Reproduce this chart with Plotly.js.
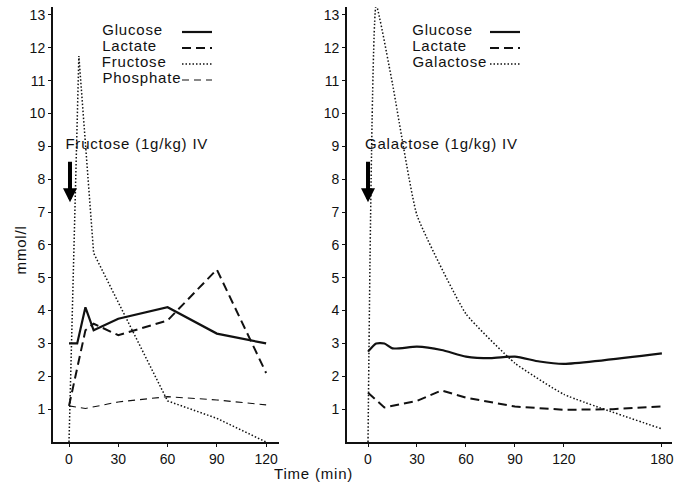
<!DOCTYPE html>
<html>
<head>
<meta charset="utf-8">
<script src="https://cdn.plot.ly/plotly-3.0.1.min.js"></script>
<style>
html,body{margin:0;padding:0;background:#fff;}
#chart{width:689px;height:483px;}
#chart .annotation-text{letter-spacing:0.8px;}
</style>
</head>
<body>
<div id="chart"></div>
<script>
// ---- Data ----
// Left panel: Fructose (1g/kg) IV
var gluLTime = [0, 5, 10, 15, 30, 60, 90, 120];
var gluLVal  = [3.0, 3.0, 4.1, 3.4, 3.75, 4.1, 3.3, 3.0];
var lacLTime = [0, 10, 15, 30, 60, 90, 120];
var lacLVal  = [1.1, 3.4, 3.6, 3.25, 3.7, 5.25, 2.1];
var fruLTime = [0, 6, 15, 60, 90, 120];
var fruLVal  = [0, 11.75, 5.75, 1.25, 0.72, 0.0];
var phoLTime = [0, 10, 30, 60, 90, 120];
var phoLVal  = [1.1, 1.02, 1.22, 1.38, 1.28, 1.13];
// Right panel: Galactose (1g/kg) IV
var gluRTime = [0, 5, 10, 15, 30, 45, 60, 75, 90, 105, 120, 180];
var gluRVal  = [2.75, 3.0, 3.0, 2.85, 2.9, 2.8, 2.6, 2.55, 2.6, 2.45, 2.38, 2.7];
var lacRTime = [0, 10, 30, 45, 60, 90, 120, 150, 180];
var lacRVal  = [1.5, 1.05, 1.25, 1.57, 1.35, 1.08, 0.98, 1.0, 1.08];
var galRTime = [0, 5, 15, 30, 60, 90, 120, 180];
var galRVal  = [0, 13.3, 10.9, 6.9, 3.9, 2.4, 1.45, 0.4];

var leftTicks  = [0, 30, 60, 90, 120];
var rightTicks = [0, 30, 60, 90, 120, 180];
var yTicks = [1, 2, 3, 4, 5, 6, 7, 8, 9, 10, 11, 12, 13];
var yTickText = ['1', '2', '3', '4', '5', '6', '7', '8', '9', '10', '11', '12', '13'];

var leftNames  = ['Glucose', 'Lactate', 'Fructose', 'Phosphate'];
var rightNames = ['Glucose', 'Lactate', 'Galactose'];
var leftNote  = 'Fructose (1g/kg) IV';
var rightNote = 'Galactose (1g/kg) IV';
var xTitle = 'Time (min)';
var yTitle = 'mmol/l';

// ---- Styles ----
var FONT = 'Liberation Sans, Arial, sans-serif';
var TXT = {family: FONT, size: 15, color: '#111'};
var LS = 0.8; // letter spacing set in CSS
var stGlu = {color: '#111', width: 2.2, dash: 'solid'};
var stLac = {color: '#111', width: 2.0, dash: '9px,5px'};
var stDot = {color: '#111', width: 1.5, dash: '1.5px,2px'};
var stPho = {color: '#111', width: 1.1, dash: '7px,5px'};

var traces = [
  {x: gluLTime, y: gluLVal, xaxis: 'x', yaxis: 'y', mode: 'lines', line: stGlu, name: leftNames[0]},
  {x: lacLTime, y: lacLVal, xaxis: 'x', yaxis: 'y', mode: 'lines', line: stLac, name: leftNames[1]},
  {x: fruLTime, y: fruLVal, xaxis: 'x', yaxis: 'y', mode: 'lines', line: stDot, name: leftNames[2]},
  {x: phoLTime, y: phoLVal, xaxis: 'x', yaxis: 'y', mode: 'lines', line: stPho, name: leftNames[3]},
  {x: gluRTime, y: gluRVal, xaxis: 'x2', yaxis: 'y2', mode: 'lines', line: Object.assign({shape: 'spline', smoothing: 0.6}, stGlu), name: rightNames[0]},
  {x: lacRTime, y: lacRVal, xaxis: 'x2', yaxis: 'y2', mode: 'lines', line: stLac, name: rightNames[1]},
  {x: galRTime, y: galRVal, xaxis: 'x2', yaxis: 'y2', mode: 'lines', line: Object.assign({shape: 'spline', smoothing: 0.4}, stDot), name: rightNames[2]}
];

// pixel helpers for decoration placement (plot area: x 53..672, y 7..442)
function px(p) { return (p - 53) / 619; }
function py(p) { return (442 - p) / 435; }
// left-anchored text: compensate for letter spacing centring shift
function lx(p, s) { return px(p + s.length * LS / 2); }

var annotations = [];
var shapes = [];
var legendY = [30, 46, 62, 78];
var legStyles = [stGlu, stLac, stDot, stPho];
leftNames.forEach(function (n, i) {
  annotations.push({xref: 'paper', yref: 'paper', x: lx(100, n), y: py(legendY[i]), xanchor: 'left', yanchor: 'middle',
    text: n, showarrow: false, font: TXT});
  shapes.push({type: 'line', xref: 'paper', yref: 'paper', x0: px(182), x1: px(212), y0: py(legendY[i] + 2), y1: py(legendY[i] + 2),
    line: {color: '#111', width: legStyles[i].width, dash: legStyles[i].dash}});
});
var rStyles = [stGlu, stLac, stDot];
rightNames.forEach(function (n, i) {
  annotations.push({xref: 'paper', yref: 'paper', x: lx(410, n), y: py(legendY[i]), xanchor: 'left', yanchor: 'middle',
    text: n, showarrow: false, font: TXT});
  shapes.push({type: 'line', xref: 'paper', yref: 'paper', x0: px(490), x1: px(520), y0: py(legendY[i] + 2), y1: py(legendY[i] + 2),
    line: {color: '#111', width: rStyles[i].width, dash: rStyles[i].dash}});
});
// dose notes
annotations.push({xref: 'paper', yref: 'paper', x: lx(63, leftNote), y: py(143), xanchor: 'left', yanchor: 'middle',
  text: leftNote, showarrow: false, font: TXT});
annotations.push({xref: 'paper', yref: 'paper', x: lx(363, rightNote), y: py(143), xanchor: 'left', yanchor: 'middle',
  text: rightNote, showarrow: false, font: TXT});
// arrows
annotations.push({xref: 'x', yref: 'y', x: 0.6, y: 7.3, ax: 0, ay: -42, text: '', showarrow: true,
  arrowhead: 2, arrowsize: 0.7, arrowwidth: 4, arrowcolor: '#000'});
annotations.push({xref: 'x2', yref: 'y2', x: 0, y: 7.3, ax: 0, ay: -42, text: '', showarrow: true,
  arrowhead: 2, arrowsize: 0.7, arrowwidth: 4, arrowcolor: '#000'});
// axis titles
annotations.push({xref: 'paper', yref: 'paper', x: px(313), y: py(473), xanchor: 'center', yanchor: 'middle',
  text: xTitle, showarrow: false, font: TXT});
annotations.push({xref: 'paper', yref: 'paper', x: px(20), y: py(250), xanchor: 'center', yanchor: 'middle',
  text: yTitle, textangle: -90, showarrow: false, font: TXT});

var axCommon = {
  showline: true, linecolor: '#111', linewidth: 2, showgrid: false, zeroline: false,
  ticks: 'outside', ticklen: 3, tickwidth: 1, tickcolor: '#111',
  tickfont: {family: FONT, size: 14, color: '#111'}, fixedrange: true
};

var layout = {
  width: 689, height: 483,
  margin: {l: 53, r: 17, t: 7, b: 41, pad: 0},
  paper_bgcolor: '#fff', plot_bgcolor: '#fff',
  showlegend: false,
  xaxis: Object.assign({}, axCommon, {domain: [0, 0.365], range: [-9.74, 127.8], tickmode: 'array', tickvals: leftTicks, anchor: 'y'}),
  yaxis: Object.assign({}, axCommon, {range: [0, 13.24], tickmode: 'array', tickvals: yTicks, ticktext: yTickText, anchor: 'x'}),
  xaxis2: Object.assign({}, axCommon, {domain: [0.475, 1], range: [-12.86, 186.2], tickmode: 'array', tickvals: rightTicks, anchor: 'y2'}),
  yaxis2: Object.assign({}, axCommon, {range: [0, 13.24], tickmode: 'array', tickvals: yTicks, ticktext: yTickText, anchor: 'x2'}),
  annotations: annotations,
  shapes: shapes
};

Plotly.newPlot('chart', traces, layout, {displayModeBar: false, staticPlot: true});
</script>
</body>
</html>
